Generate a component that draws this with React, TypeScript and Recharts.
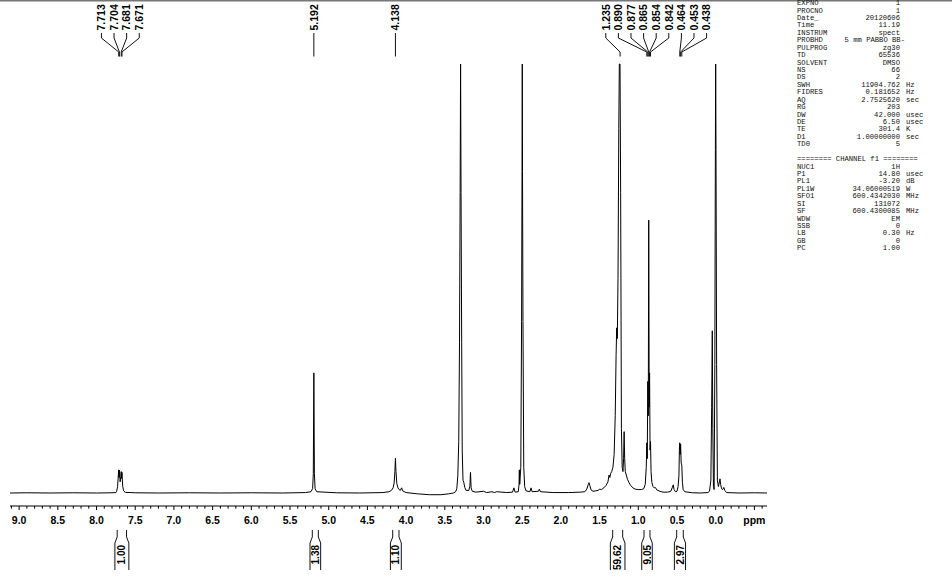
import React from 'react';
import { ComposedChart, Line, XAxis, YAxis, ReferenceArea } from 'recharts';

// ---------- spectrum data: [chemical shift (ppm), intensity (% of full scale)] ----------
const baselineLow: [number, number][] = [
  [9.118, 0], [8.9, 0.05], [8.6, 0], [8.3, 0.05], [8.0, 0], [7.8, 0.05], [7.75, 0.1],
];
const aromaticMultiplet: [number, number][] = [
  [7.74, 0.4], [7.728, 1.5], [7.718, 4.2], [7.713, 5.4], [7.709, 3.6], [7.704, 5.3], [7.695, 2.6],
  [7.686, 3.8], [7.681, 5.0], [7.676, 3.4], [7.671, 4.8], [7.662, 1.6], [7.65, 0.5], [7.63, 0.15],
  [7.5, 0.05], [7.2, 0], [6.8, 0.05], [6.4, 0], [6.0, 0.05], [5.6, 0], [5.3, 0.1],
];
const singlet52: [number, number][] = [
  [5.23, 0.3], [5.208, 1.0], [5.199, 4.5], [5.192, 28], [5.185, 4.5], [5.176, 1.0], [5.155, 0.3],
  [4.9, 0.05], [4.6, 0], [4.3, 0.1], [4.22, 0.3],
];
const peak41: [number, number][] = [
  [4.19, 0.6], [4.168, 1.2], [4.155, 2.3], [4.145, 5], [4.138, 8.1], [4.131, 5], [4.12, 2.2],
  [4.105, 1.2], [4.09, 0.8], [4.075, 0.6], [4.058, 1.2], [4.045, 0.5], [4.0, 0.1], [3.85, -0.2],
  [3.7, -0.4], [3.55, -0.4], [3.45, -0.2], [3.39, 0],
];
const waterRegion: [number, number][] = [
  [3.36, 0.3], [3.345, 1], [3.332, 4], [3.32, 12], [3.31, 35], [3.302, 70], [3.296, 100], [3.29, 70],
  [3.282, 35], [3.275, 10], [3.265, 3], [3.255, 2.5], [3.242, 1.3], [3.225, 0.6], [3.19, 0.6],
  [3.176, 1.6], [3.168, 4.8], [3.16, 1.2], [3.145, 0.4], [3.1, 0.2], [3.0, 0.4], [2.96, 0.1],
  [2.89, 0.3], [2.86, 0.1], [2.83, 0.3], [2.7, 0.1],
];
const dmsoRegion: [number, number][] = [
  [2.625, 0.2], [2.607, 1.2], [2.592, 0.2], [2.55, 0.3], [2.541, 2], [2.537, 5.4], [2.532, 2],
  [2.518, 6], [2.508, 40], [2.502, 75], [2.499, 100], [2.496, 75], [2.49, 40], [2.48, 6], [2.468, 1.5],
  [2.45, 0.5], [2.4, 0.3], [2.386, 1.2], [2.372, 0.3], [2.29, 0.4], [2.279, 0.9], [2.265, 0.3],
  [2.1, 0.1], [1.9, 0.1], [1.75, 0.2],
];
const aliphaticRegion: [number, number][] = [
  [1.69, 0.3], [1.665, 0.9], [1.648, 1.9], [1.637, 2.4], [1.627, 1.8], [1.61, 0.7], [1.585, 0.4],
  [1.55, 0.5], [1.52, 0.6], [1.498, 0.9], [1.475, 0.8], [1.445, 1.2], [1.415, 1.8], [1.392, 2.6],
  [1.378, 4.2], [1.368, 3.6], [1.356, 4.6], [1.343, 5], [1.328, 6], [1.312, 9], [1.298, 18],
  [1.287, 32], [1.279, 38.5], [1.271, 36], [1.262, 50], [1.252, 85], [1.245, 100], [1.236, 100],
  [1.228, 70], [1.218, 15], [1.208, 6], [1.198, 5], [1.19, 8], [1.183, 14.3], [1.176, 8], [1.168, 5],
  [1.155, 4.2], [1.14, 3.2], [1.12, 2.4], [1.1, 1.8], [1.07, 1.2], [1.04, 0.9], [1.0, 0.8],
  [0.96, 0.8], [0.93, 1.0], [0.91, 2.0], [0.897, 6], [0.89, 11.7], [0.884, 8], [0.877, 26],
  [0.871, 18], [0.865, 63.6], [0.859, 20], [0.854, 28], [0.848, 10], [0.842, 12], [0.835, 5],
  [0.825, 2.5], [0.81, 1.5], [0.795, 1.2], [0.78, 1.3], [0.76, 0.7], [0.72, 0.4], [0.68, 0.2],
  [0.62, 0.2], [0.58, 0.4], [0.562, 1.2], [0.548, 1.9], [0.538, 0.8], [0.52, 0.3], [0.5, 0.4],
  [0.486, 1.5], [0.475, 4], [0.469, 10], [0.464, 11.7], [0.458, 9], [0.453, 11.4], [0.446, 7],
  [0.438, 6.5], [0.43, 2.5], [0.42, 0.8], [0.4, 0.3], [0.3, 0.05], [0.2, 0], [0.1, 0.1],
];
const referenceRegion: [number, number][] = [
  [0.08, 0.4], [0.062, 3], [0.052, 20], [0.044, 37.8], [0.037, 15], [0.029, 1.5], [0.02, 0.8],
  [0.011, 30], [0.004, 80], [0.0, 100], [-0.004, 80], [-0.012, 30], [-0.022, 3], [-0.035, 1.5],
  [-0.048, 2.6], [-0.056, 3.3], [-0.064, 2], [-0.076, 1], [-0.09, 0.8], [-0.105, 1.3],
  [-0.118, 0.6], [-0.14, 0.1], [-0.3, 0], [-0.5, 0.05], [-0.663, 0],
];

// ---------- annotations ----------
const peakLabelGroups: number[][] = [
  [7.713, 7.704, 7.681, 7.671],
  [5.192],
  [4.138],
  [1.235, 0.89, 0.877, 0.865, 0.854, 0.842, 0.464, 0.453, 0.438],
];
const integralFrom = [7.733, 5.212, 4.173, 1.331, 0.926, 0.504];
const integralTo = [7.612, 5.134, 4.092, 1.202, 0.849, 0.419];
const integralValues = ['1.00', '1.38', '1.10', '59.62', '9.05', '2.97'];

const axisLabelValues = [9.0, 8.5, 8.0, 7.5, 7.0, 6.5, 6.0, 5.5, 5.0, 4.5, 4.0, 3.5, 3.0, 2.5, 2.0, 1.5, 1.0, 0.5, 0.0, -0.5];
const axisLabels = ['9.0', '8.5', '8.0', '7.5', '7.0', '6.5', '6.0', '5.5', '5.0', '4.5', '4.0', '3.5', '3.0', '2.5', '2.0', '1.5', '1.0', '0.5', '0.0', 'ppm'];

// ---------- acquisition / processing parameters ----------
const acqNames = ['EXPNO', 'PROCNO', 'Date_', 'Time', 'INSTRUM', 'PROBHD', 'PULPROG', 'TD', 'SOLVENT', 'NS', 'DS', 'SWH', 'FIDRES', 'AQ', 'RG', 'DW', 'DE', 'TE', 'D1', 'TD0'];
const acqValues = ['1', '1', '20120606', '11.19', 'spect', '5 mm PABBO BB-', 'zg30', '65536', 'DMSO', '66', '2', '11904.762', '0.181652', '2.7525620', '203', '42.000', '6.50', '301.4', '1.00000000', '5'];
const acqUnits = ['', '', '', '', '', '', '', '', '', '', '', 'Hz', 'Hz', 'sec', '', 'usec', 'usec', 'K', 'sec', ''];
const channelHeader = '======== CHANNEL f1 ========';
const chNames = ['NUC1', 'P1', 'PL1', 'PL1W', 'SFO1', 'SI', 'SF', 'WDW', 'SSB', 'LB', 'GB', 'PC'];
const chValues = ['1H', '14.80', '-3.20', '34.06000519', '600.4342030', '131072', '600.4300085', 'EM', '0', '0.30', '0', '1.00'];
const chUnits = ['', 'usec', 'dB', 'W', 'MHz', '', 'MHz', '', '', 'Hz', '', ''];

// ---------- layout constants ----------
const W = 952;
const H = 579;
const PPM_MAX = 9.118;
const PPM_MIN = -0.663;
const Y_MIN = -3.03;
const Y_MAX = 114.92;
const FULL = 100;
const INTEGRAL_TOP = -8.62;
const INTEGRAL_BOTTOM = -17.95;
const SANS = "'Liberation Sans', Arial, Helvetica, sans-serif";
const MONO = "'Liberation Mono', 'DejaVu Sans Mono', monospace";

const spectrum = [
  ...baselineLow, ...aromaticMultiplet, ...singlet52, ...peak41, ...waterRegion,
  ...dmsoRegion, ...aliphaticRegion, ...referenceRegion,
].map(([ppm, intensity]) => ({ ppm, intensity }));

const axisTicks: number[] = [];
for (let i = 0; i <= 97; i++) axisTicks.push(Math.round((9.1 - i * 0.1) * 10) / 10);

function AxisTick(props: any) {
  const { x, y, payload } = props;
  const v = payload.value as number;
  const idx = axisLabelValues.findIndex((a) => Math.abs(a - v) < 1e-6);
  const major = Math.abs(v * 2 - Math.round(v * 2)) < 1e-6;
  return (
    <g>
      <line x1={x} x2={x} y1={y} y2={y + (major ? 4 : 2.7)} stroke="#000" strokeWidth={1} />
      {idx >= 0 && (
        <text x={x} y={y + 17.5} textAnchor="middle" fontFamily={SANS} fontSize={10.5} fontWeight="bold" fill="#000">
          {axisLabels[idx]}
        </text>
      )}
    </g>
  );
}

function PeakLabels(props: any) {
  const { x, y, width, group } = props;
  const hi = Math.max(...group);
  const lo = Math.min(...group);
  const px = (ppm: number) => (hi === lo ? x : x + ((hi - ppm) / (hi - lo)) * width);
  const peakXs: number[] = group.map(px);
  const mean = peakXs.reduce((a: number, b: number) => a + b, 0) / peakXs.length;
  const n = group.length;
  return (
    <g>
      {group.map((ppm: number, i: number) => {
        const lx = mean + (i - (n - 1) / 2) * 12.6;
        const pk = peakXs[i];
        const tx = lx + 3.8;
        const ty = y + 30.5;
        return (
          <g key={i}>
            <text x={tx} y={ty} transform={`rotate(-90 ${tx} ${ty})`} textAnchor="start" fontFamily={SANS}
              fontSize={10.5} fontWeight="bold" fill="#000">
              {ppm.toFixed(3)}
            </text>
            <polyline points={`${lx},${y + 33} ${lx},${y + 38} ${pk},${y + 52} ${pk},${y + 56.5}`}
              fill="none" stroke="#111" strokeWidth={1} />
          </g>
        );
      })}
    </g>
  );
}

function IntegralBracket(props: any) {
  const { x, y, width, height, label } = props;
  const l = x;
  const r = x + width;
  const t = y;
  const b = y + height;
  const cx = (l + r) / 2 + 3.6;
  const ty = t + 15;
  return (
    <g>
      <path d={`M${l},${t} V${t + 7} L${l - 2.3},${t + 13} V${b} M${r},${t} V${t + 7} L${r + 2.3},${t + 13} V${b}`}
        fill="none" stroke="#111" strokeWidth={1} />
      <text x={cx} y={ty} transform={`rotate(-90 ${cx} ${ty})`} textAnchor="end" fontFamily={SANS}
        fontSize={10} fontWeight="bold" fill="#000">
        {label}
      </text>
    </g>
  );
}

function ParamBlock() {
  const rowY = (i: number) => 2.6 + i * 7.43 + 2.5;
  const common = { fontFamily: MONO, fontSize: 7.2, fill: '#111' };
  const rows: React.ReactNode[] = [];
  acqNames.forEach((name, i) => {
    const long = acqValues[i].length > 12;
    rows.push(
      <g key={'a' + i}>
        <text x={797} y={rowY(i)} {...common}>{name}</text>
        <text x={long ? 905 : 900} y={rowY(i)} textAnchor="end" {...common}>{acqValues[i]}</text>
        {acqUnits[i] && <text x={906} y={rowY(i)} {...common}>{acqUnits[i]}</text>}
      </g>
    );
  });
  rows.push(<text key="hdr" x={797} y={rowY(21)} {...common}>{channelHeader}</text>);
  chNames.forEach((name, j) => {
    const i = 22 + j;
    rows.push(
      <g key={'c' + j}>
        <text x={797} y={rowY(i)} {...common}>{name}</text>
        <text x={900} y={rowY(i)} textAnchor="end" {...common}>{chValues[j]}</text>
        {chUnits[j] && <text x={906} y={rowY(i)} {...common}>{chUnits[j]}</text>}
      </g>
    );
  });
  return (
    <svg width={W} height={H} style={{ position: 'absolute', left: 0, top: 0, pointerEvents: 'none' }}>
      <rect x={0} y={0} width={W} height={1.5} fill="#777" />
      {rows}
    </svg>
  );
}

export default function App() {
  return (
    <div style={{ position: 'absolute', left: 0, top: 0, width: W, height: H, background: '#fff' }}>
      <ComposedChart width={W} height={H} data={spectrum} margin={{ top: 0, right: 185, bottom: 0, left: 10 }}>
        <XAxis dataKey="ppm" type="number" domain={[PPM_MIN, PPM_MAX]} reversed allowDataOverflow
          ticks={axisTicks} interval={0} tick={AxisTick} tickLine={false} tickSize={0} tickMargin={0}
          axisLine={{ stroke: '#000', strokeWidth: 1 }} height={73} />
        <YAxis hide type="number" domain={[Y_MIN, Y_MAX]} allowDataOverflow />
        <Line type="linear" dataKey="intensity" stroke="#000" strokeWidth={1} dot={false}
          isAnimationActive={false} activeDot={false} />
        {peakLabelGroups.map((g, gi) => (
          <ReferenceArea key={'pl' + gi} x1={Math.max(...g)} x2={Math.min(...g)} y1={FULL} y2={Y_MAX}
            ifOverflow="visible" shape={(p: any) => <PeakLabels {...p} group={g} />} />
        ))}
        {integralFrom.map((from, i) => (
          <ReferenceArea key={'int' + i} x1={from} x2={integralTo[i]} y1={INTEGRAL_TOP} y2={INTEGRAL_BOTTOM}
            ifOverflow="visible" shape={(p: any) => <IntegralBracket {...p} label={integralValues[i]} />} />
        ))}
      </ComposedChart>
      <ParamBlock />
    </div>
  );
}
